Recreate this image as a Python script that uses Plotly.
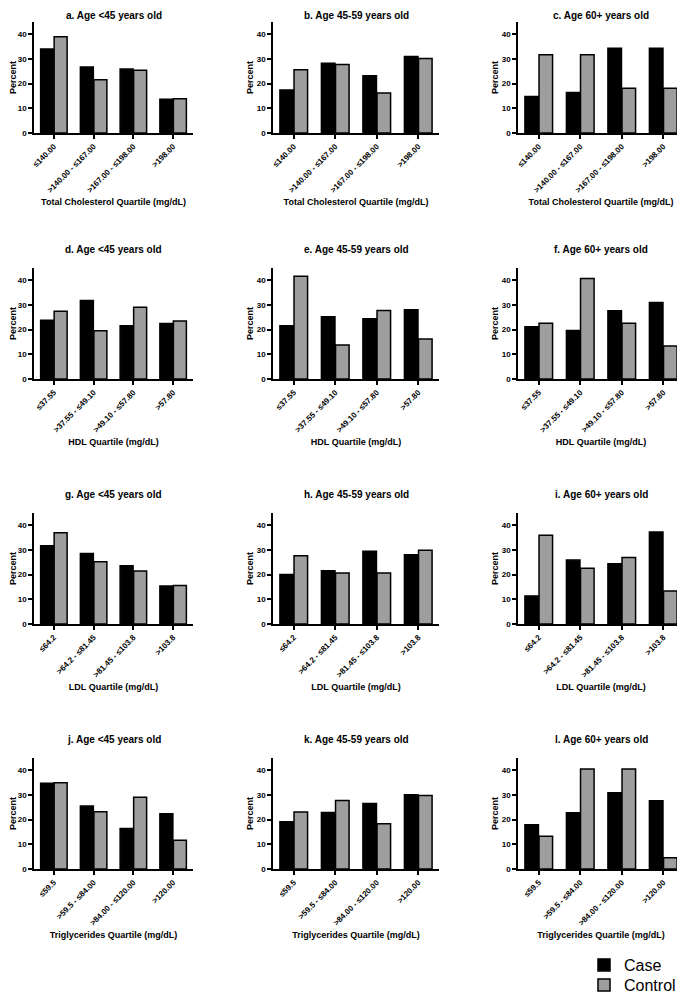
import plotly.graph_objects as go

# ---- data ----
age_groups = ["Age <45 years old", "Age 45-59 years old", "Age 60+ years old"]
panel_letters = ["a", "b", "c", "d", "e", "f", "g", "h", "i", "j", "k", "l"]

tc_labels = ["≤140.00", ">140.00 - ≤167.00", ">167.00 - ≤198.00", ">198.00"]
hdl_labels = ["≤37.55", ">37.55 - ≤49.10", ">49.10 - ≤57.80", ">57.80"]
ldl_labels = ["≤64.2", ">64.2 - ≤81.45", ">81.45 - ≤103.8", ">103.8"]
tg_labels = ["≤59.5", ">59.5 - ≤84.00", ">84.00 - ≤120.00", ">120.00"]

row_titles = [
    "Total Cholesterol Quartile (mg/dL)",
    "HDL Quartile (mg/dL)",
    "LDL Quartile (mg/dL)",
    "Triglycerides Quartile (mg/dL)",
]

# case / control percent, per row (lipid) and column (age group)
tc_case = [[34.1, 26.8, 25.9, 13.7], [17.4, 28.3, 23.2, 31.0], [14.8, 16.4, 34.4, 34.4]]
tc_ctrl = [[39.0, 21.6, 25.4, 13.9], [25.6, 27.8, 16.2, 30.2], [31.7, 31.7, 18.1, 18.1]]

hdl_case = [[23.8, 31.8, 21.6, 22.5], [21.6, 25.2, 24.4, 28.1], [21.2, 19.7, 27.7, 31.0]]
hdl_ctrl = [[27.5, 19.6, 29.1, 23.5], [41.7, 13.8, 27.8, 16.2], [22.6, 40.7, 22.6, 13.4]]

ldl_case = [[31.7, 28.6, 23.6, 15.4], [20.1, 21.6, 29.5, 28.1], [11.4, 25.9, 24.4, 37.3]]
ldl_ctrl = [[37.0, 25.2, 21.5, 15.6], [27.7, 20.7, 20.7, 29.9], [36.0, 22.6, 27.0, 13.4]]

tg_case = [[34.8, 25.5, 16.4, 22.4], [19.2, 22.9, 26.6, 30.1], [17.9, 22.8, 30.9, 27.7]]
tg_ctrl = [[35.0, 23.2, 29.1, 11.7], [23.1, 27.8, 18.3, 29.8], [13.3, 40.5, 40.5, 4.6]]

rows = [
    (tc_labels, tc_case, tc_ctrl),
    (hdl_labels, hdl_case, hdl_ctrl),
    (ldl_labels, ldl_case, ldl_ctrl),
    (tg_labels, tg_case, tg_ctrl),
]

# page has an 8px body margin, so the figure is shrunk and shifted by it
OFF = 8
W, H = 685 - OFF, 994 - OFF
FONT = "Liberation Sans, Arial, sans-serif"
CASE_COLOR = "#000000"
CTRL_COLOR = "#9E9E9E"

# plot-area pixel boxes on the page: (left, right) and (top, bottom)
# (first column nudged right so its "Percent" label stays on the page)
col_px = [(34, 193), (273, 439), (518, 684)]
row_px = [(22, 133), (268, 379), (513, 624), (758, 869)]


def px_x(x):
    return (x - OFF) / W


def px_y(y):
    return 1 - (y - OFF) / H


fig = go.Figure()
annotations = []

for r, (labels, case_vals, ctrl_vals) in enumerate(rows):
    for c in range(3):
        idx = r * 3 + c
        n = "" if idx == 0 else str(idx + 1)
        xa, ya = "x" + n, "y" + n
        fig.add_trace(go.Bar(
            x=labels, y=case_vals[c], name="Case", xaxis=xa, yaxis=ya,
            marker=dict(color=CASE_COLOR, line=dict(color="#000000", width=1.5)),
            showlegend=(idx == 0), legend="legend",
        ))
        fig.add_trace(go.Bar(
            x=labels, y=ctrl_vals[c], name="Control", xaxis=xa, yaxis=ya,
            marker=dict(color=CTRL_COLOR, line=dict(color="#000000", width=1.5)),
            showlegend=(idx == 0), legend="legend2",
        ))

        x0, x1 = col_px[c]
        y0, y1 = row_px[r]
        xdom = [px_x(x0), min(px_x(x1), 1.0)]
        ydom = [px_y(y1), px_y(y0)]

        fig.update_layout(**{
            "xaxis" + n: dict(
                domain=xdom, anchor=ya, type="category",
                showline=True, linecolor="#000000", linewidth=1.5,
                ticks="outside", ticklen=4, tickwidth=1.5, tickcolor="#000000",
                tickangle=-45, showgrid=False, zeroline=False,
                tickfont=dict(family=FONT, size=8, color="#000000", weight="bold"),
                title=dict(text=row_titles[r], standoff=5,
                           font=dict(family=FONT, size=9, color="#000000", weight="bold")),
                automargin=False,
            ),
            "yaxis" + n: dict(
                domain=ydom, anchor=xa, range=[0, 45],
                tickvals=[0, 10, 20, 30, 40],
                showline=True, linecolor="#000000", linewidth=1.5,
                ticks="outside", ticklen=4, tickwidth=1.5, tickcolor="#000000",
                showgrid=False, zeroline=False,
                tickfont=dict(family=FONT, size=8, color="#000000", weight="bold"),
                title=dict(text="Percent", standoff=2,
                           font=dict(family=FONT, size=9, color="#000000", weight="bold")),
                automargin=False,
            ),
        })

        if r == 0:
            title_pos = dict(y=1.0, yanchor="top", yshift=0)
        else:
            title_pos = dict(y=ydom[1], yanchor="bottom", yshift=11)
        annotations.append(dict(
            text=f"{panel_letters[idx]}. {age_groups[c]}",
            xref="paper", yref="paper",
            x=(xdom[0] + xdom[1]) / 2, xanchor="center",
            showarrow=False,
            font=dict(family=FONT, size=10, color="#000000", weight="bold"),
            **title_pos,
        ))

legend_style = dict(
    xanchor="left", yanchor="middle",
    font=dict(family=FONT, size=16, color="#000000"),
    bgcolor="rgba(0,0,0,0)",
)

fig.update_layout(
    width=W, height=H,
    margin=dict(l=0, r=0, t=0, b=0, autoexpand=False),
    plot_bgcolor="white", paper_bgcolor="white",
    barmode="group", bargap=0.32, bargroupgap=0.04,
    annotations=annotations,
    legend=dict(x=px_x(584), y=px_y(965), **legend_style),
    legend2=dict(x=px_x(584), y=px_y(985), **legend_style),
)

fig.write_html("out.html")
